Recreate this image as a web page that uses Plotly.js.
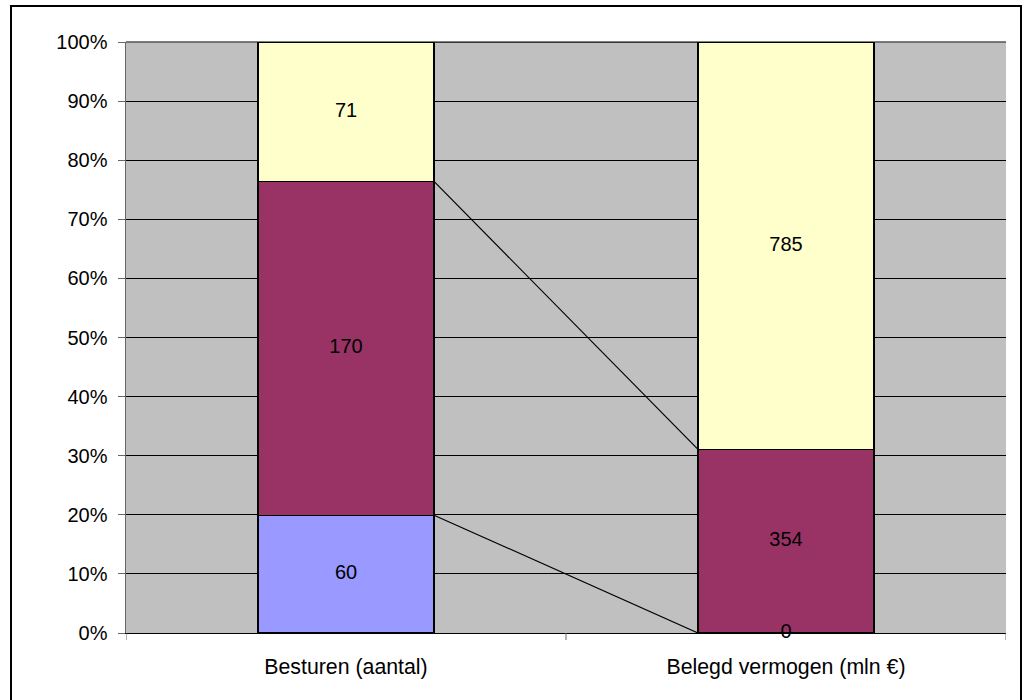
<!DOCTYPE html>
<html>
<head>
<meta charset="utf-8">
<script src="https://cdn.plot.ly/plotly-3.0.1.min.js"></script>
<style>
html,body{margin:0;padding:0;background:#fff;overflow:hidden;}
#wrap{position:relative;width:1023px;height:700px;overflow:hidden;}
#chart{width:1023px;height:700px;}
#frame{position:absolute;left:10px;top:5px;width:1008px;height:720px;border:2px solid #000;pointer-events:none;}
</style>
</head>
<body>
<div id="wrap"><div id="chart"></div><div id="frame"></div></div>
<script>
const categories = ["Besturen (aantal)", "Belegd vermogen (mln €)"];
const seriesNames = ["Reeks 1", "Reeks 2", "Reeks 3"];
const series1 = [60, 0];
const series2 = [170, 354];
const series3 = [71, 785];
const colors = ["#9999FF", "#993366", "#FFFFCC"];

const allSeries = [series1, series2, series3];
const xIdx = categories.map((c, i) => i);
const totals = xIdx.map(i => allSeries.reduce((s, ser) => s + ser[i], 0));
const font = {family: "Liberation Sans, Arial, sans-serif", size: 20, color: "#000"};
const xfont = {family: "Liberation Sans, Arial, sans-serif", size: 21.3, color: "#000"};

const traces = [];
allSeries.forEach((ser, k) => {
  traces.push({
    type: "bar", x: xIdx, y: ser.map((v, i) => v / totals[i] * 100), name: seriesNames[k],
    marker: {color: colors[k], line: {color: "#000", width: 1.3}},
    width: 0.4, hoverinfo: "skip", showlegend: false
  });
});

// cumulative tops / mids
const cumTop = [], cumMid = [];
let acc = xIdx.map(() => 0);
allSeries.forEach((ser) => {
  const pct = ser.map((v, i) => v / totals[i] * 100);
  cumMid.push(pct.map((p, i) => acc[i] + p / 2));
  acc = acc.map((a, i) => a + pct[i]);
  cumTop.push(acc.slice());
});

// series lines
cumTop.forEach((top) => {
  traces.push({
    type: "scatter", mode: "lines", x: [xIdx[0] + 0.2, xIdx[1] - 0.2], y: [top[0], top[1]],
    line: {color: "#000", width: 1.2}, hoverinfo: "skip", showlegend: false
  });
});

// data labels
allSeries.forEach((ser, k) => {
  traces.push({
    type: "scatter", mode: "text", x: xIdx, y: cumMid[k], text: ser.map(String),
    textposition: "middle center", textfont: font, hoverinfo: "skip", showlegend: false,
    cliponaxis: false
  });
});

const shapes = [0, 1, 2].map(v => ({
  type: "line", xref: "x", yref: "paper", x0: v - 0.5, x1: v - 0.5, y0: 0, y1: -0.012,
  line: {color: "#666", width: 1}
}));
shapes.push({type: "line", xref: "paper", yref: "paper", x0: 0, x1: 1, y0: 1, y1: 1,
  line: {color: "#555", width: 1.5}, layer: "below"});

const layout = {
  width: 1023, height: 700,
  margin: {l: 126, r: 17, t: 42, b: 67},
  paper_bgcolor: "#fff", plot_bgcolor: "#C0C0C0",
  barmode: "stack", bargap: 0.6,
  font: font,
  showlegend: false,
  xaxis: {
    range: [-0.5, 1.5], tickvals: xIdx, ticktext: categories, ticks: "",
    showgrid: false, zeroline: false, showline: true, linecolor: "#000", linewidth: 1,
    tickfont: xfont, ticklabelstandoff: 14, fixedrange: true
  },
  yaxis: {
    range: [0, 100], dtick: 10, ticksuffix: "%", ticks: "outside", ticklen: 7,
    tickcolor: "#666", tickwidth: 1, showline: true, linecolor: "#666", linewidth: 1.5,
    showgrid: true, gridcolor: "#000", gridwidth: 1, zeroline: false,
    tickfont: font, ticklabelstandoff: 6, fixedrange: true
  },
  shapes: shapes
};

Plotly.newPlot("chart", traces, layout, {displayModeBar: false, staticPlot: true});
</script>
</body>
</html>
